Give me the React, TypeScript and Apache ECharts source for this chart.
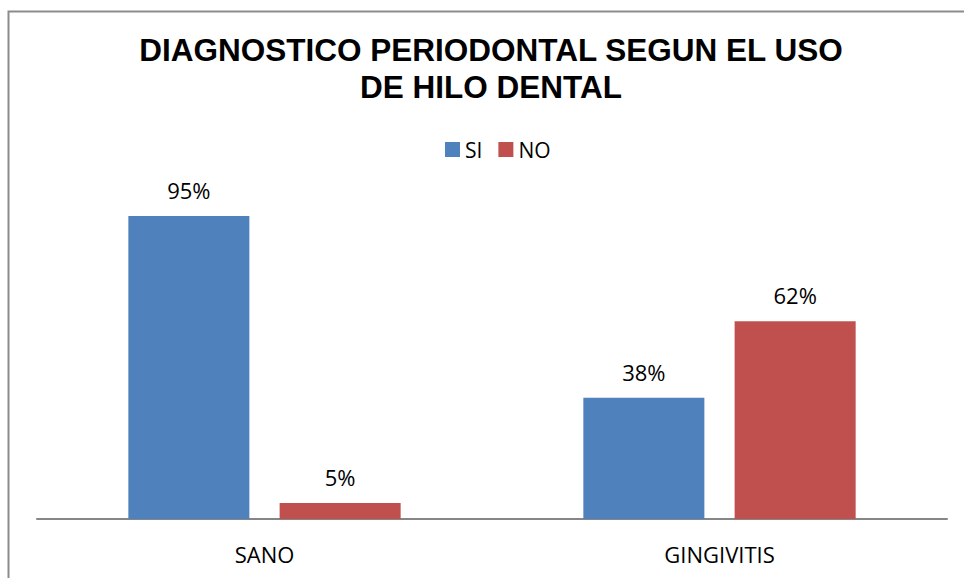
import React, { useEffect, useRef } from "react";
import * as echarts from "echarts";

const categories = ["SANO", "GINGIVITIS"];
const siValues = [0.95, 0.38];
const noValues = [0.05, 0.62];
const seriesNames = ["SI", "NO"];
const titleLines = ["DIAGNOSTICO PERIODONTAL SEGUN EL USO", "DE HILO DENTAL"];

const pct = (v: number) => Math.round(v * 100) + "%";

export default function App() {
  const ref = useRef<HTMLDivElement>(null);
  useEffect(() => {
    if (!ref.current) return;
    const chart = echarts.init(ref.current, null, { renderer: "svg" });
    const labelCfg = {
      show: true,
      position: "top",
      distance: 15,
      formatter: (p: any) => pct(p.value),
      fontFamily: "Open Sans",
      fontSize: 22,
      color: "#000",
    };
    chart.setOption({
      animation: false,
      backgroundColor: "#fff",
      graphic: [
        {
          type: "rect",
          shape: { x: 8.5, y: 11.5, width: 1000, height: 600 },
          style: { fill: "none", stroke: "#8c8c8c", lineWidth: 2 },
          silent: true,
        },
        {
          type: "text",
          x: 491,
          y: 31,
          style: {
            text: titleLines.join("\n"),
            align: "center",
            verticalAlign: "top",
            font: "bold 31.5px 'Liberation Sans', Arial, sans-serif",
            lineHeight: 37,
            fill: "#000",
          },
        },
      ],
      legend: {
        left: 440,
        top: 134,
        icon: "rect",
        itemWidth: 15,
        itemHeight: 15,
        itemGap: 16,
        itemStyle: { borderWidth: 0 },
        textStyle: { fontFamily: "Open Sans", fontSize: 21, color: "#000" },
        data: seriesNames,
      },
      grid: { left: 37, right: 17, top: 200, bottom: 59 },
      xAxis: {
        type: "category",
        data: categories,
        axisLine: { lineStyle: { color: "#868686", width: 2 } },
        axisTick: { show: false },
        axisLabel: { fontFamily: "Open Sans", fontSize: 22, color: "#000", margin: 24 },
      },
      yAxis: {
        type: "value",
        min: 0,
        max: 1,
        show: false,
        splitLine: { show: false },
      },
      series: [
        {
          name: seriesNames[0],
          type: "bar",
          data: siValues,
          barWidth: "26.6%",
          barGap: "25%",
          itemStyle: { color: "#4F81BD" },
          label: labelCfg,
        },
        {
          name: seriesNames[1],
          type: "bar",
          data: noValues,
          barWidth: "26.6%",
          barGap: "25%",
          itemStyle: { color: "#C0504D" },
          label: labelCfg,
        },
      ],
    });
    return () => chart.dispose();
  }, []);
  return (
    <div
      ref={ref}
      style={{ position: "absolute", left: 0, top: 0, width: 964, height: 578 }}
    />
  );
}
